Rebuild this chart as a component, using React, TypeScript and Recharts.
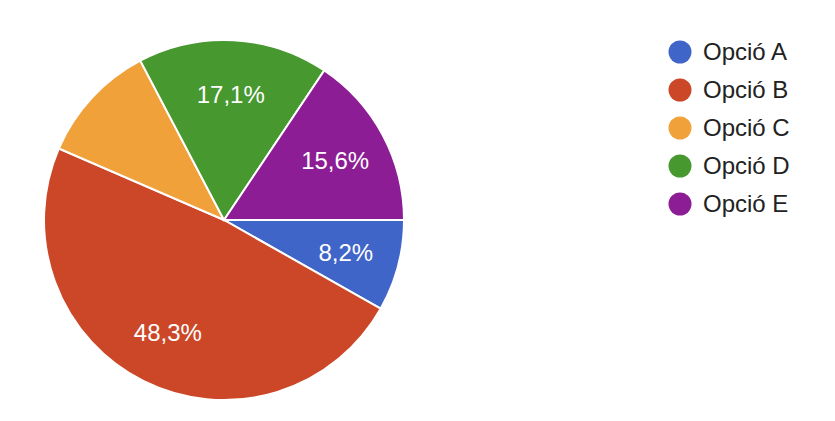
import React from "react";
import { PieChart, Pie, Cell, Legend } from "recharts";

const options = ["Opció A", "Opció B", "Opció C", "Opció D", "Opció E"];
const shares = [8.2, 48.3, 10.8, 17.1, 15.6];
const colors = ["#4065c8", "#cc4727", "#f1a13a", "#46982f", "#8c1d95"];
// the original leaves the orange slice without a label
const unlabeled = ["Opció C"];

const data = options.map((name, i) => ({ name, value: shares[i] }));

const RADIAN = Math.PI / 180;
const FONT = "Arial, 'Liberation Sans', sans-serif";

const renderLabel = (props: any) => {
  const { cx, cy, midAngle, outerRadius, percent, name } = props;
  if (unlabeled.includes(name)) return null;
  const r = outerRadius * 0.7;
  const x = cx + r * Math.cos(-midAngle * RADIAN);
  const y = cy + r * Math.sin(-midAngle * RADIAN);
  return (
    <text
      x={x}
      y={y}
      fill="#fff"
      textAnchor="middle"
      dominantBaseline="central"
      fontSize={24}
      fontFamily={FONT}
    >
      {(percent * 100).toFixed(1).replace(".", ",") + "%"}
    </text>
  );
};

const renderLegend = (props: any) => {
  const { payload } = props;
  return (
    <div style={{ fontFamily: FONT, fontSize: 24, color: "#222" }}>
      {payload.map((entry: any, i: number) => (
        <div
          key={i}
          style={{ display: "flex", alignItems: "center", height: 38 }}
        >
          <svg width={24} height={24} style={{ marginRight: 11 }}>
            <circle cx={12} cy={12} r={11.5} fill={entry.color} />
          </svg>
          <span>{entry.value}</span>
        </div>
      ))}
    </div>
  );
};

export default function App() {
  return (
    <PieChart width={820} height={405}>
      <Pie
        data={data}
        dataKey="value"
        nameKey="name"
        cx={211}
        cy={207}
        outerRadius={180}
        startAngle={0}
        endAngle={-360}
        stroke="#fff"
        strokeWidth={2}
        label={renderLabel}
        labelLine={false}
        isAnimationActive={false}
      >
        {data.map((d, i) => (
          <Cell key={d.name} fill={colors[i]} />
        ))}
      </Pie>
      <Legend
        content={renderLegend}
        layout="vertical"
        verticalAlign="top"
        align="right"
        wrapperStyle={{ left: 660, top: 25, width: 160 }}
      />
    </PieChart>
  );
}
